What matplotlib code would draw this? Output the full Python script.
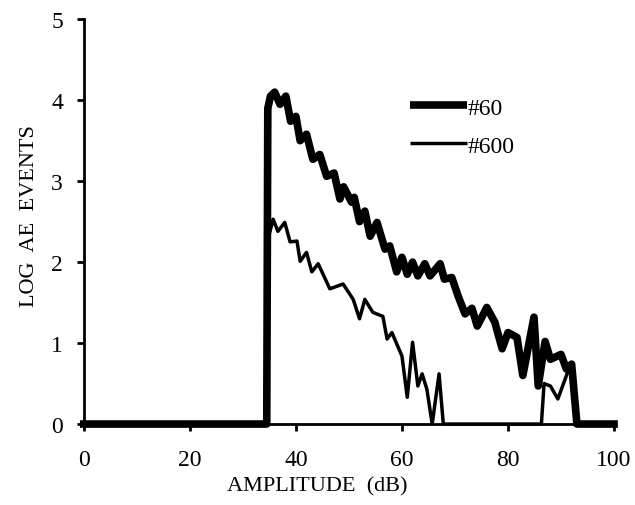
import matplotlib.pyplot as plt

plt.rcParams['font.family'] = ['Liberation Serif', 'DejaVu Serif']

# amplitude (dB) and log AE events
amp60 = [0, 34.5, 34.7, 35.2, 36, 37, 38.1, 39, 40, 40.8, 42, 43.2, 44.5, 45.8,
         47.2, 48.3, 49, 50.5, 51, 52, 53, 54, 55.3, 56.8, 57.7, 59, 60, 61,
         62, 63, 64.3, 65.3, 67.2, 68, 69.4, 70.6, 71.9, 73.2, 74.2, 76, 77.5,
         78.9, 80, 81.7, 82.8, 84.9, 85.7, 87, 88, 90, 91, 92, 93, 100]
ae60 = [0, 0, 3.9, 4.05, 4.1, 3.95, 4.05, 3.74, 3.8, 3.5, 3.58, 3.27, 3.33, 3.06,
        3.1, 2.78, 2.93, 2.74, 2.8, 2.5, 2.63, 2.32, 2.49, 2.16, 2.2, 1.88, 2.06, 1.85,
        2.0, 1.83, 1.98, 1.83, 1.98, 1.79, 1.81, 1.58, 1.36, 1.43, 1.21, 1.44, 1.26,
        0.93, 1.13, 1.07, 0.6, 1.32, 0.47, 1.02, 0.8, 0.86, 0.68, 0.74, 0, 0]

amp600 = [0, 34.5, 34.8, 35.7, 36.6, 37.9, 38.9, 40.2, 40.8, 42, 43, 44.2, 46.4,
          48.9, 50.8, 52, 53, 54.5, 56.4, 57.2, 58.1, 60, 61, 62, 63, 63.8, 64.7,
          65.7, 67, 67.8, 86.3, 86.8, 88, 89.4, 91.7, 93, 100]
ae600 = [0, 0, 2.3, 2.53, 2.38, 2.49, 2.25, 2.26, 2.01, 2.12, 1.88, 1.98, 1.67,
         1.73, 1.54, 1.3, 1.54, 1.38, 1.33, 1.05, 1.13, 0.84, 0.33, 1.01, 0.47, 0.62, 0.43,
         0, 0.62, 0, 0, 0.5, 0.47, 0.31, 0.72, 0, 0]

fig = plt.figure(figsize=(6.35, 5.06), dpi=100)
ax = fig.add_axes([0.132, 0.160, 0.835, 0.800])

ax.plot(amp60, ae60, color='black', lw=5.5, solid_joinstyle='round',
        clip_on=False, label='#60')
ax.plot(amp600, ae600, color='black', lw=2.5, solid_joinstyle='round',
        clip_on=False, label='#600')

ax.set_xlim(0, 100)
ax.set_ylim(0, 5)
ax.set_xticks(range(0, 101, 20))
ax.set_yticks(range(0, 6))
for s in ['top', 'right']:
    ax.spines[s].set_visible(False)
ax.spines['left'].set_linewidth(2)
ax.spines['bottom'].set_linewidth(2)
ax.tick_params(direction='out', length=5, width=2, labelsize=17)
ax.tick_params(axis='x', pad=13)
ax.tick_params(axis='y', pad=10)

ax.set_xlabel('AMPLITUDE  (dB)', fontsize=16)
ax.xaxis.set_label_coords(0.44, -0.13)
ax.set_ylabel('LOG  AE  EVENTS', fontsize=16)
ax.yaxis.set_label_coords(-0.085, 0.516)

leg = ax.legend(loc='upper left', bbox_to_anchor=(0.575, 0.86), frameon=False,
                fontsize=17, handlelength=2.4, handletextpad=0.05, labelspacing=0.7)
for h in leg.get_lines():
    h.set_solid_capstyle('butt')

fig.savefig('out.png', dpi=100)
